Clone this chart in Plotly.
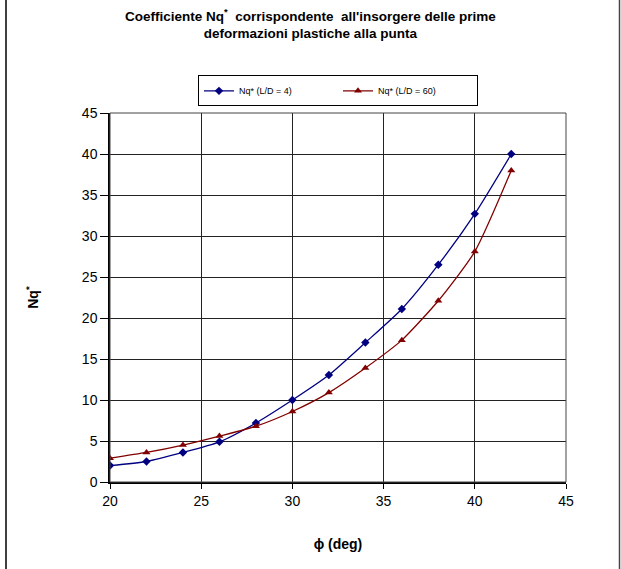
import plotly.graph_objects as go

phi = [20, 22, 24, 26, 28, 30, 32, 34, 36, 38, 40, 42]
nq_ld4 = [2.0, 2.5, 3.6, 4.9, 7.2, 10.0, 13.05, 17.0, 21.1, 26.5, 32.7, 40.0]
nq_ld60 = [2.9, 3.6, 4.5, 5.6, 6.8, 8.6, 10.9, 13.9, 17.3, 22.1, 28.1, 38.0]

W, H = 621, 569
ml, mr, mt, mb = 110, 55, 113, 87
pw, ph = W - ml - mr, H - mt - mb

def px(x):
    return (x - ml) / pw

def py(y):
    return (H - mb - y) / ph

fig = go.Figure()
fig.add_trace(go.Scatter(
    x=phi, y=nq_ld4, mode="lines+markers", name="Nq* (L/D = 4)",
    line=dict(color="#000080", width=1.3, shape="spline", smoothing=0.6),
    marker=dict(symbol="diamond", size=6.5, color="#000080"),
))
fig.add_trace(go.Scatter(
    x=phi, y=nq_ld60, mode="lines+markers", name="Nq* (L/D = 60)",
    line=dict(color="#800000", width=1.3, shape="spline", smoothing=0.6),
    marker=dict(symbol="triangle-up", size=7, color="#800000"),
))

fig.update_layout(
    width=W, height=H,
    margin=dict(l=ml, r=mr, t=mt, b=mb),
    paper_bgcolor="white", plot_bgcolor="white",
    font=dict(family="Arial, Liberation Sans, sans-serif", color="black"),
    legend=dict(
        orientation="h", x=0.5, xanchor="center", y=1.018, yanchor="bottom",
        bordercolor="black", borderwidth=1, bgcolor="white",
        font=dict(size=9), entrywidth=94, entrywidthmode="pixels",
        itemwidth=30,
    ),
    showlegend=True,
)
fig.add_annotation(
    text="<b>Coefficiente Nq<sup>*</sup>  corrispondente  all'insorgere delle prime<br>deformazioni plastiche alla punta</b>",
    xref="paper", yref="paper", x=px(310), y=py(24), xanchor="center", yanchor="middle",
    showarrow=False, font=dict(size=13.5, family="Arial, Liberation Sans, sans-serif"),
)
fig.update_xaxes(
    range=[20, 45], tick0=20, dtick=5, showgrid=True, gridcolor="#222", gridwidth=1,
    showline=True, linecolor="black", linewidth=1.5, ticks="outside", ticklen=5,
    tickcolor="black", tickfont=dict(size=14), zeroline=False,
    title=dict(text="<b>ϕ (deg)</b>", font=dict(size=14), standoff=32),
)
fig.update_yaxes(
    range=[0, 45], tick0=0, dtick=5, showgrid=True, gridcolor="#222", gridwidth=1,
    showline=True, linecolor="black", linewidth=1.5, ticks="outside", ticklen=8,
    tickcolor="black", tickfont=dict(size=14), zeroline=False,
    title=dict(text="<b>Nq<sup>*</sup></b>", font=dict(size=14), standoff=40),
)
# plot area border (right/top)
fig.add_shape(type="rect", xref="paper", yref="paper", x0=0, x1=1, y0=0, y1=1,
              line=dict(color="#444", width=1), layer="above")
# outer frame lines
fig.add_shape(type="line", xref="paper", yref="paper", x0=px(6), x1=px(6),
              y0=py(H), y1=py(0), line=dict(color="black", width=1.5))
fig.add_shape(type="line", xref="paper", yref="paper", x0=px(619.5), x1=px(619.5),
              y0=py(H), y1=py(0), line=dict(color="#444", width=1.5))

fig.write_html("out.html", config={"displayModeBar": False},
               post_script="document.body.style.margin='0';")
